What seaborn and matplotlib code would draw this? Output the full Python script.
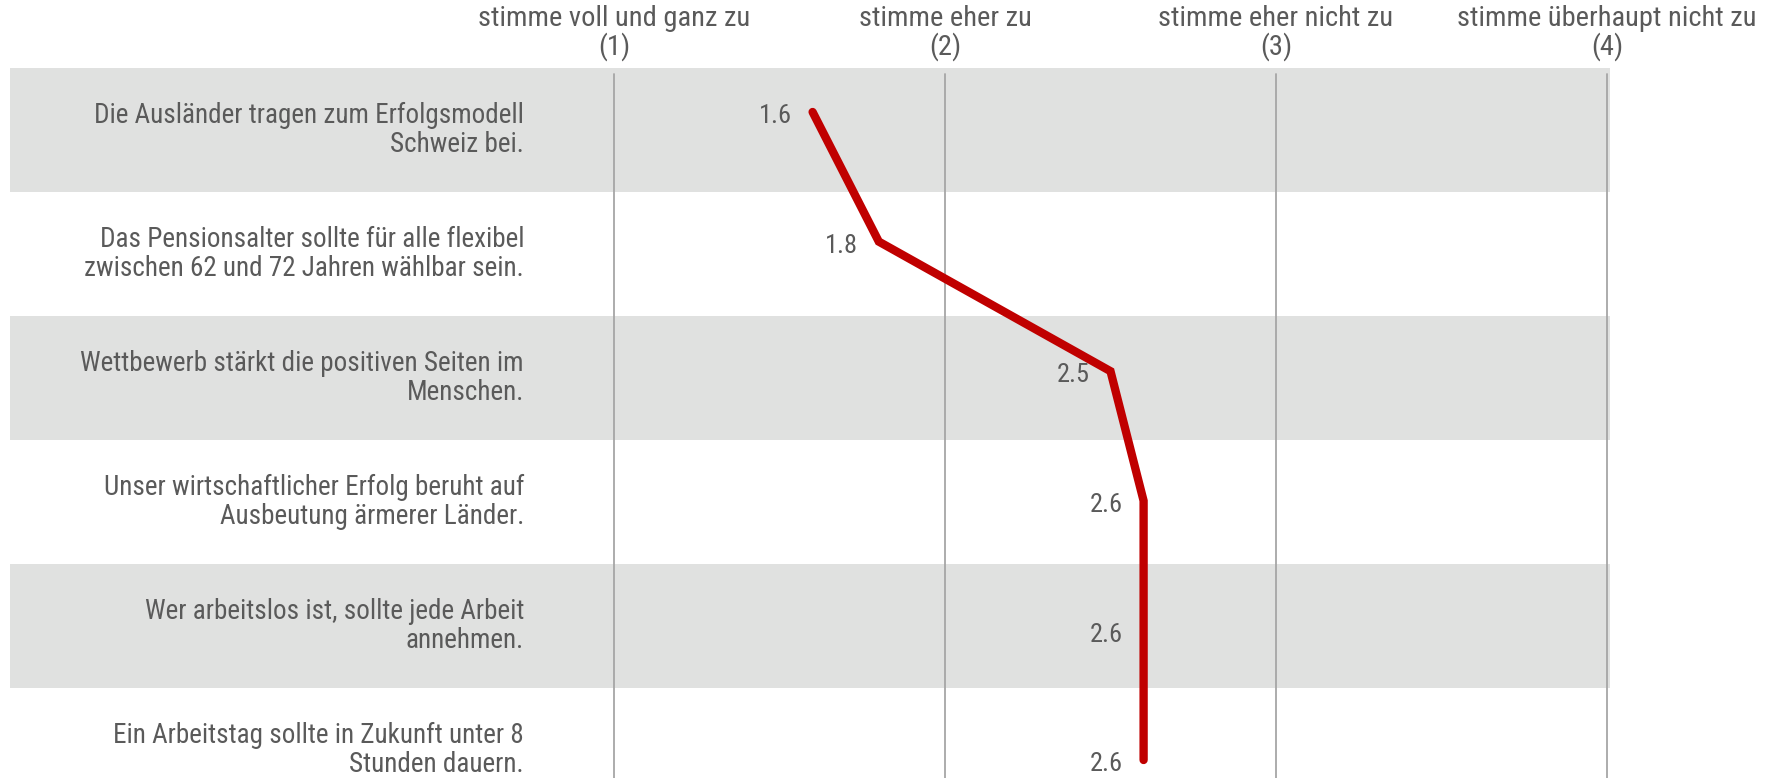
import matplotlib
matplotlib.use('Agg')
import matplotlib.pyplot as plt
from matplotlib import font_manager
import pandas as pd
import seaborn as sns

# Daten
aussagen = [
    'Die Ausländer tragen zum Erfolgsmodell\nSchweiz bei.',
    'Das Pensionsalter sollte für alle flexibel\nzwischen 62 und 72 Jahren wählbar sein.',
    'Wettbewerb stärkt die positiven Seiten im\nMenschen.',
    'Unser wirtschaftlicher Erfolg beruht auf\nAusbeutung ärmerer Länder.',
    'Wer arbeitslos ist, sollte jede Arbeit\nannehmen.',
    'Ein Arbeitstag sollte in Zukunft unter 8\nStunden dauern.',
]
mittelwerte = [1.6, 1.8, 2.5, 2.6, 2.6, 2.6]
skala = [1, 2, 3, 4]
skala_labels = ['stimme voll und ganz zu\n(1)', 'stimme eher zu\n(2)',
                'stimme eher nicht zu\n(3)', 'stimme überhaupt nicht zu\n(4)']

df = pd.DataFrame({'aussage': aussagen, 'wert': mittelwerte,
                   'pos': range(len(aussagen))})

sns.set_theme(style='white')
# schmale Schrift wie Tahoma, falls vorhanden
installed = {f.name for f in font_manager.fontManager.ttflist}
font = 'DejaVu Sans'
for cand in ['DejaVu Sans Condensed', 'Liberation Sans Narrow', 'Roboto Condensed']:
    if cand in installed:
        font = cand
        break
plt.rcParams['font.family'] = [font, 'DejaVu Sans']

grau = '#5a5a5a'
W, H = 1767, 778
fig = plt.figure(figsize=(W / 100, H / 100), dpi=100)
# Achse von px 10 bis 1610 horizontal, px 68 (oben) bis unten
ax = fig.add_axes([10 / W, 0, 1600 / W, (H - 68) / H])
px_unit = 331.0
ax.set_xlim(1 - (614 - 10) / px_unit, 4 + 3 / px_unit)
row_h = 124.0
ax.set_ylim(-0.5 + (H - 68) / row_h, -0.5)

# Hintergrundbänder
for i in range(len(aussagen)):
    if i % 2 == 0:
        ax.axhspan(i - 0.5, i + 0.5, color='#e0e1e0', lw=0, zorder=0)

# vertikale Gitterlinien
for s in skala:
    ax.axvline(s, ymin=0, ymax=1 - 6 / (H - 68), color='#a6a6a6', lw=1.3, zorder=1)

# Aussagen links
for i, txt in enumerate(aussagen):
    ax.text(1 - (614 - 524) / px_unit, i, txt, ha='right', va='center',
            multialignment='right', fontsize=19.5, color=grau, linespacing=1.1)

ax.set_yticks([])
ax.xaxis.tick_top()
ax.set_xticks(skala)
ax.set_xticklabels(skala_labels, fontsize=20.5, color=grau, linespacing=1.02)
ax.tick_params(axis='x', length=0, pad=5)
for sp in ax.spines.values():
    sp.set_visible(False)

# Linie auf eigener y-Skala
ax2 = ax.twinx()
step = 129.6
ax2.set_ylim(5 + (H - 760) / step, -(112 - 68) / step)
sns.lineplot(data=df, x='wert', y='pos', orient='y', sort=False, ax=ax2,
             color='#c00000', lw=6, solid_capstyle='round', solid_joinstyle='miter')
for _, r in df.iterrows():
    ax2.annotate(f"{r['wert']:.1f}", (r['wert'], r['pos']), xytext=(-15, -3),
                 textcoords='offset points', ha='right', va='center',
                 fontsize=19, color=grau)
ax2.set_axis_off()

fig.savefig('out.png', dpi=100)
